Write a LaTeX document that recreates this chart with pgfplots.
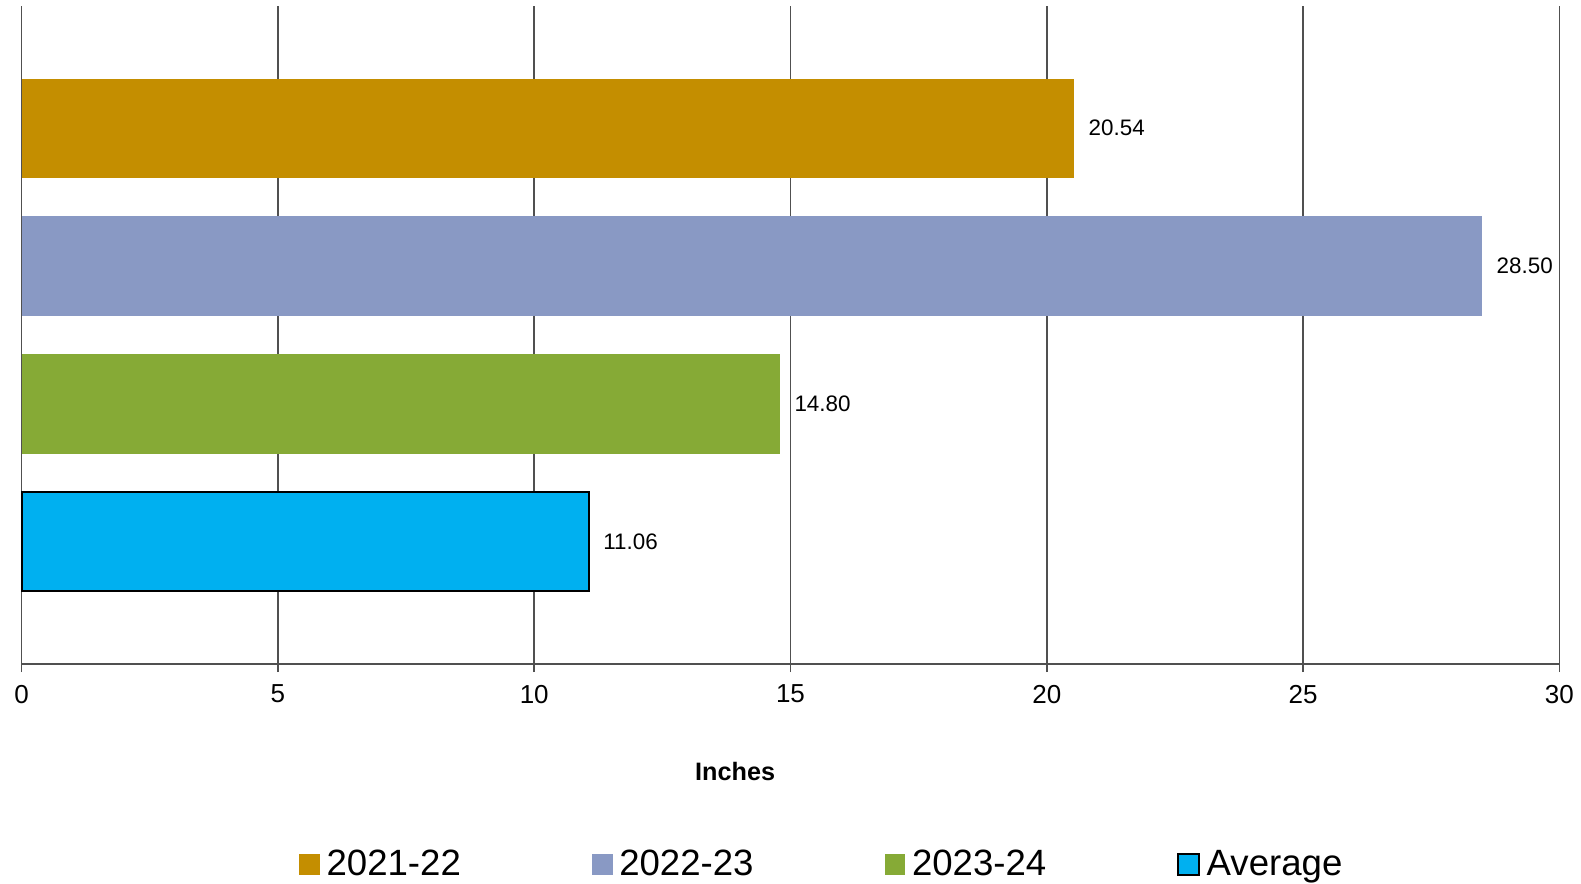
\documentclass[border=0pt]{standalone}
\usepackage{fontspec}
\setmainfont{Liberation Sans}
\usepackage{pgfplots}
\pgfplotsset{compat=1.18}
\definecolor{cgold}{RGB}{196,142,0}
\definecolor{clav}{RGB}{137,153,196}
\definecolor{cgreen}{RGB}{134,170,54}
\definecolor{ccyan}{RGB}{0,176,240}
\definecolor{cgrid}{RGB}{80,80,80}
\begin{document}
\begin{tikzpicture}
\begin{axis}[
    at={(10.85pt,110pt)}, anchor=south west,
    scale only axis, width=768.8pt, height=329pt,
    xbar, bar shift=0pt, bar width=0.72,
    xmin=0, xmax=30, ymin=0.114, ymax=4.886,
    xtick={0,5,...,30}, ytick=\empty,
    axis x line*=bottom, axis y line=none,
    x axis line style={-, draw=cgrid, line width=0.75pt},
    xmajorgrids, major grid style={draw=cgrid, line width=0.75pt},
    tick align=outside, major tick length=4pt,
    tick style={draw=cgrid, line width=0.75pt},
    /pgf/number format/assume math mode=true,
    ticklabel style={font=\fontsize{13}{15}\selectfont},
    xticklabel style={yshift=-3pt},
    xlabel={Inches},
    x label style={at={(axis description cs:0.464,0)}, anchor=center, yshift=-53.5pt,
        font=\bfseries\fontsize{12.6}{15}\selectfont},
    point meta=x,
    nodes near coords={\pgfmathprintnumber[fixed,zerofill,precision=2]{\pgfplotspointmeta}},
    every node near coord/.append style={font=\fontsize{11.2}{13}\selectfont, black, xshift=3.6pt},
    legend columns=4,
    legend image code/.code={\path[#1] (0pt,-5.2pt) rectangle (10.4pt,5.2pt);},
    legend style={at={(0.521,0)}, anchor=center, yshift=-100.3pt, draw=none,
        font=\fontsize{18.3}{22}\selectfont,
        /tikz/every odd column/.append style={column sep=1.3pt},
        /tikz/every even column/.append style={column sep=63.5pt}},
    clip=false,
]
\addplot[fill=cgold, draw=none] coordinates {(20.54,4)};
\addplot[fill=clav, draw=none] coordinates {(28.50,3)};
\addplot[fill=cgreen, draw=none] coordinates {(14.80,2)};
\addplot[fill=ccyan, draw=black, line width=1pt] coordinates {(11.06,1)};
\legend{2021-22,2022-23,2023-24,Average}
\end{axis}
\pgfresetboundingbox
\path[use as bounding box] (0,0) rectangle (790.5pt,442pt);
\end{tikzpicture}
\end{document}
